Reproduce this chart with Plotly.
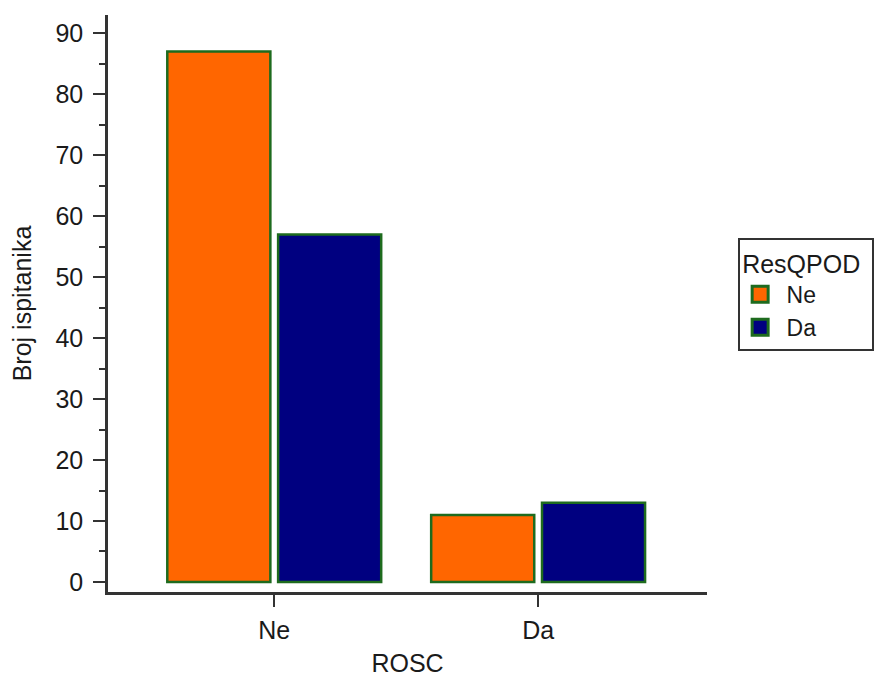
import plotly.graph_objects as go

categories = ["Ne", "Da"]
series_names = ["Ne", "Da"]
values_ne = [87, 11]
values_da = [57, 13]
colors = ["#FF6600", "#000080"]
outline = "#1E6B1E"

fig = go.Figure()
for name, vals, col in zip(series_names, [values_ne, values_da], colors):
    fig.add_trace(go.Bar(
        x=categories, y=vals, name=name, showlegend=False,
        marker=dict(color=col, line=dict(color=outline, width=2.5)),
    ))
# legend entries with larger square swatches
for name, col in zip(series_names, colors):
    fig.add_trace(go.Scatter(
        x=[None], y=[None], mode="markers", name="\u00a0" + name + "\u00a0" * 8,
        marker=dict(symbol="square", size=16, color=col, line=dict(color=outline, width=3)),
    ))

font = dict(family="Liberation Sans, Arial, sans-serif", size=25, color="#1a1a1a")
legfont = dict(family="Liberation Sans, Arial, sans-serif", size=23, color="#1a1a1a")
tickfont = dict(family="Liberation Sans, Arial, sans-serif", size=25, color="#1a1a1a")
fig.update_layout(
    width=885, height=672,
    margin=dict(l=100, r=186, t=7, b=84),
    paper_bgcolor="white", plot_bgcolor="white",
    font=font,
    barmode="group", bargap=0.16, bargroupgap=0.07,
    showlegend=True,
    legend=dict(
        title=dict(text="ResQPOD", font=font),
        x=1.052, xanchor="left", y=0.613, yanchor="top",
        bordercolor="#333", borderwidth=2, bgcolor="white",
        font=legfont, tracegroupgap=0, itemsizing="trace",
    ),
    xaxis=dict(
        range=[-0.63, 1.64], showline=True, linecolor="#333", linewidth=2.5,
        ticks="outside", ticklen=12, tickwidth=2, tickcolor="#333", tickfont=tickfont,
        ticklabelstandoff=2,
        showgrid=False, zeroline=False,
        title=dict(text="ROSC", font=font, standoff=12),
    ),
    yaxis=dict(
        range=[-1.65, 93], showline=True, linecolor="#333", linewidth=2.5,
        ticks="outside", ticklen=12, tickwidth=2, tickcolor="#333", tickfont=tickfont,
        ticklabelstandoff=5,
        tick0=0, dtick=10, showgrid=False, zeroline=False,
        minor=dict(ticks="outside", ticklen=6, tickwidth=2, tickcolor="#333", dtick=5, tick0=0, showgrid=False),
        title=dict(text="Broj ispitanika", font=font, standoff=18),
    ),
)
fig.write_html("out.html")
